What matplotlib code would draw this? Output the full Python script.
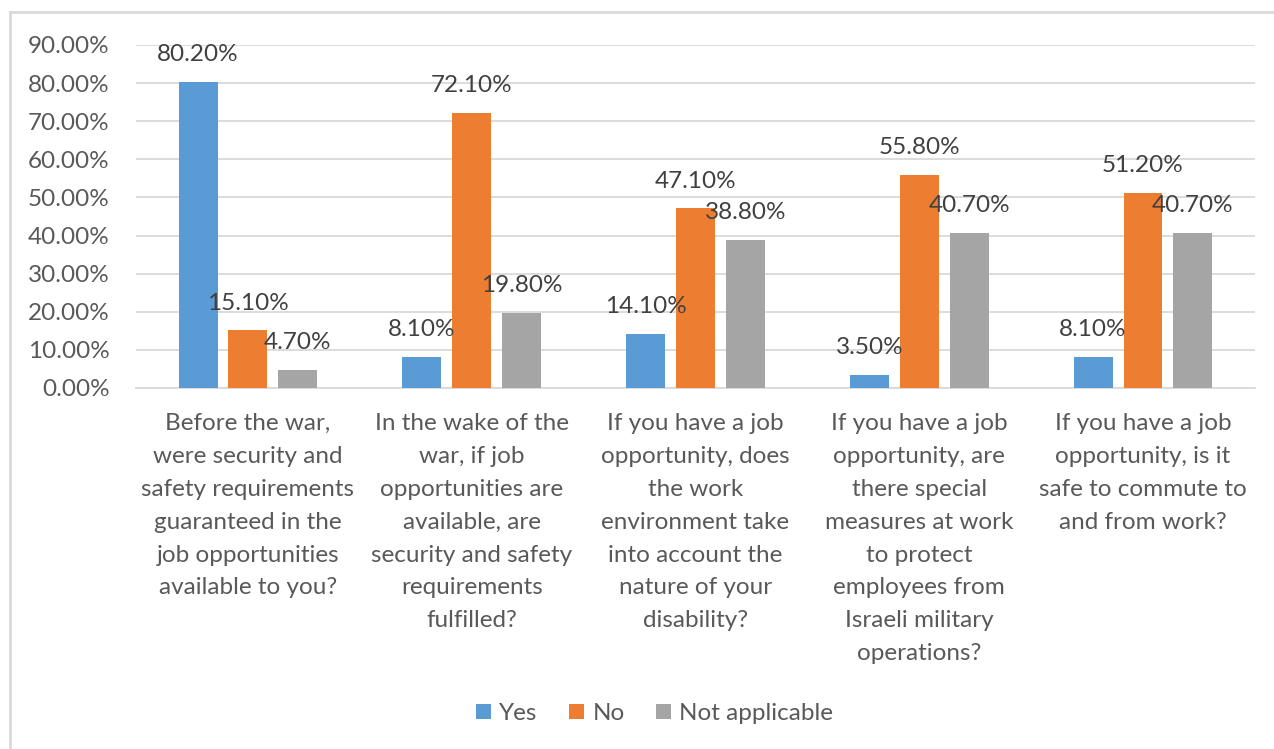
import matplotlib

matplotlib.use("Agg")

import matplotlib.pyplot as plt
import numpy as np
from matplotlib.lines import Line2D
from matplotlib.ticker import FuncFormatter

plt.rcParams["font.family"] = ["Lato", "DejaVu Sans"]

QUESTIONS = [
    "Before the war,\nwere security and\nsafety requirements\nguaranteed in the\njob opportunities\navailable to you?",
    "In the wake of the\nwar, if job\nopportunities are\navailable, are\nsecurity and safety\nrequirements\nfulfilled?",
    "If you have a job\nopportunity, does\nthe work\nenvironment take\ninto account the\nnature of your\ndisability?",
    "If you have a job\nopportunity, are\nthere special\nmeasures at work\nto protect\nemployees from\nIsraeli military\noperations?",
    "If you have a job\nopportunity, is it\nsafe to commute to\nand from work?",
]
YES = [80.2, 8.1, 14.1, 3.5, 8.1]
NO = [15.1, 72.1, 47.1, 55.8, 51.2]
NOT_APPLICABLE = [4.7, 19.8, 38.8, 40.7, 40.7]
SERIES = ["Yes", "No", "Not applicable"]
COLORS = ["#5B9BD5", "#ED7D31", "#A5A5A5"]

TEXT = "#595959"
LABEL = "#404040"
GRID = "#D9D9D9"
FS = 17.5

fig = plt.figure(figsize=(12.74, 7.49), dpi=100)
ax = fig.add_axes([0.1068, 0.482, 0.8782, 0.458])

x = np.arange(len(QUESTIONS))
width = 0.174
step = 0.223
for i, (vals, name, color) in enumerate(zip([YES, NO, NOT_APPLICABLE], SERIES, COLORS)):
    pos = x + (i - 1) * step
    ax.bar(pos, vals, width, color=color, label=name, zorder=3)
    for px, v in zip(pos, vals):
        ax.annotate(f"{v:.2f}%", (px, v), xytext=(0, 15), textcoords="offset points",
                    ha="center", va="baseline", fontsize=FS, color=LABEL, zorder=4)

ax.set_xlim(-0.5, len(QUESTIONS) - 0.5)
ax.set_ylim(0, 90)
ax.set_yticks(np.arange(0, 91, 10))
ax.yaxis.set_major_formatter(FuncFormatter(lambda v, _: f"{v:.2f}%"))
ax.grid(axis="y", color=GRID, linewidth=1.3, zorder=0)
ax.set_xticks(x)
ax.set_xticklabels(QUESTIONS, fontsize=FS, color=TEXT, linespacing=1.7)
ax.tick_params(axis="x", length=0, pad=18)
ax.tick_params(axis="y", length=0, pad=19, labelsize=FS, labelcolor=TEXT)
for side in ["top", "right", "left"]:
    ax.spines[side].set_visible(False)
ax.spines["bottom"].set_color(GRID)
ax.spines["bottom"].set_linewidth(1.3)

handles, labels = ax.get_legend_handles_labels()
fig.legend(handles, labels, loc="center", bbox_to_anchor=(0.514, 0.047), ncol=3,
           frameon=False, fontsize=FS, labelcolor=TEXT, handlelength=0.6,
           handleheight=0.6, handletextpad=0.35, columnspacing=1.3)

# chart area outline (left and top edges)
fig.add_artist(Line2D([0.008, 0.008], [0, 0.984], color="#D9D9D9", linewidth=2,
                      transform=fig.transFigure))
fig.add_artist(Line2D([0.008, 1.0], [0.984, 0.984], color="#D9D9D9", linewidth=2,
                      transform=fig.transFigure))

fig.savefig("out.png", dpi=100, facecolor="white")
